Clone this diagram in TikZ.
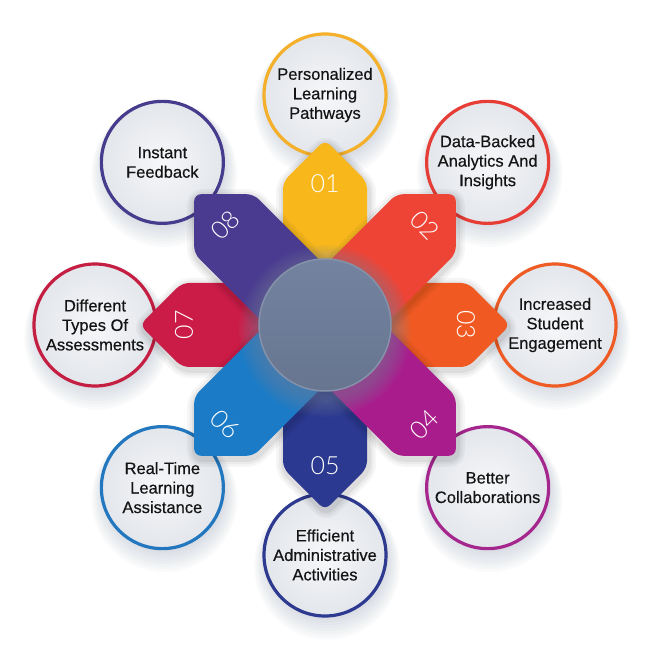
\documentclass[tikz,border=0pt]{standalone}
\usepackage{fontspec}
\setmainfont{Liberation Sans}
\newfontfamily\bubfont[FakeBold=0.45]{Liberation Sans}
\IfFontExistsTF{Lato Light}{\newfontfamily\numfont{Lato Light}}{\newfontfamily\numfont{Lato}}
\usetikzlibrary{calc}
\definecolor{a1}{HTML}{F8B81C}\definecolor{r1}{HTML}{F4B02B}
\definecolor{a2}{HTML}{EE4436}\definecolor{r2}{HTML}{E63D37}
\definecolor{a3}{HTML}{F05A22}\definecolor{r3}{HTML}{EE5B24}
\definecolor{a4}{HTML}{A91C8C}\definecolor{r4}{HTML}{A5278E}
\definecolor{a5}{HTML}{2B3990}\definecolor{r5}{HTML}{2E3A8F}
\definecolor{a6}{HTML}{1B7BC6}\definecolor{r6}{HTML}{2277BF}
\definecolor{a7}{HTML}{CB1C47}\definecolor{r7}{HTML}{C41F42}
\definecolor{a8}{HTML}{4A3A90}\definecolor{r8}{HTML}{473B8E}
\definecolor{txt}{HTML}{141414}
\definecolor{shd}{HTML}{7D8AA3}
\definecolor{glowc}{HTML}{76849E}
\definecolor{ctrtop}{HTML}{7383A0}
\definecolor{ctrbot}{HTML}{67758F}
\definecolor{ctrring}{HTML}{8592AA}
\definecolor{bubin}{HTML}{F6F7F9}
\definecolor{bubout}{HTML}{E3E6EB}
\tikzset{
  bubble/.style={circle, minimum size=122pt, inner sep=0pt, line width=3.2pt,
    inner color=bubin, outer color=bubout, align=center, text=txt,
    font=\bubfont\fontsize{16.5}{19.5}\selectfont},
  numlbl/.style={text=white, inner sep=0pt, font=\numfont\fontsize{25}{25}\selectfont},
  armfill/.style={rounded corners=7pt},
}
\begin{document}
\begin{tikzpicture}[x=1pt,y=1pt]
\useasboundingbox (-325,-325) rectangle (325,325);
\fill[white] (-325,-325) rectangle (325,325);
% outer circles
\foreach \a/\rc/\nm/\txt in {
  90/r1/c1/{Personalized\\Learning\\Pathways},
  45/r2/c2/{Data-Backed\\Analytics And\\Insights},
  0/r3/c3/{Increased\\Student\\Engagement},
  -45/r4/c4/{Better\\Collaborations},
  -90/r5/c5/{Efficient\\Administrative\\Activities},
  -135/r6/c6/{Real-Time\\Learning\\Assistance},
  180/r7/c7/{Different\\Types Of\\Assessments},
  135/r8/c8/{Instant\\Feedback}} {
  \foreach \k in {1,...,8}
    \fill[shd, opacity=0.035] ($(\a:230)+(2,{-2-1.2*\k})$) circle ({60+1.6*\k});
  \node[bubble, draw=\rc] (\nm) at (\a:230) {\txt};
}
% arms
\foreach \a/\fc/\nm/\num/\rot in {
  90/a1/n1/01/0, 0/a3/n3/03/-90, -90/a5/n5/05/0, 180/a7/n7/07/90,
  45/a2/n2/02/-45, -45/a4/n4/04/45, -135/a6/n6/06/-45, 135/a8/n8/08/45} {
  \begin{scope}[shift={(1,-3)}, rotate=\a]
    \foreach \w/\o in {16/0.035, 11/0.045, 6/0.06}
      \draw[black, opacity=\o, line width=\w, rounded corners=7pt, line join=round]
        (0,-42) -- (143,-42) -- (185,0) -- (143,42) -- (0,42) -- cycle;
  \end{scope}
  \begin{scope}[rotate=\a]
    \fill[\fc, armfill] (0,-42) -- (143,-42) -- (185,0) -- (143,42) -- (0,42) -- cycle;
  \end{scope}
  \node[numlbl, rotate=\rot] (\nm) at (\a:141) {\num};
}
% center glow and circle
\foreach \k in {0,...,9}
  \fill[glowc, opacity=0.06] (0,-6) circle ({86-2*\k});
\node[circle, minimum size=132pt, inner sep=0pt, draw=ctrring, line width=1.5pt,
  top color=ctrtop, bottom color=ctrbot] (ctr) at (0,0) {};
\end{tikzpicture}
\end{document}
